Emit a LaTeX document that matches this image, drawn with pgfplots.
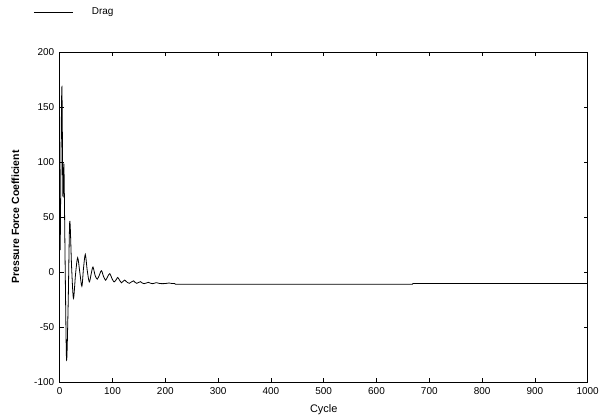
\documentclass[border=0pt]{standalone}
\usepackage{pgfplots}
\pgfplotsset{compat=1.18}
\usepackage{fontspec}
\setmainfont{Liberation Sans}
\begin{document}
\begin{tikzpicture}
\path[use as bounding box] (-59.7bp,-38bp) rectangle (543.3bp,382bp);
\begin{axis}[
  at={(0,0)}, anchor=south west,
  scale only axis,
  width=528bp, height=330bp,
  xmin=0, xmax=1000, ymin=-100, ymax=200,
  xtick={0,100,...,1000}, ytick={-100,-50,...,200},
  tick align=inside,
  major tick length=4bp,
  tick style={black, line width=0.6bp},
  axis line style={line width=0.8bp},
  /pgf/number format/assume math mode=true,
  /pgf/number format/1000 sep={},
  tick label style={font=\fontsize{10}{12}\selectfont},
  xlabel={Cycle},
  ylabel={\textbf{Pressure Force Coefficient}},
  xlabel style={font=\fontsize{11}{13}\selectfont, at={(axis description cs:0.5,0)}, anchor=north, yshift=-19bp},
  ylabel style={font=\fontsize{10.5}{13}\selectfont, at={(axis description cs:0,0.5)}, anchor=south, yshift=37bp},
  xticklabel style={yshift=-2bp},
  yticklabel style={xshift=-2bp},
  scaled ticks=false,
  clip=false,
]
\addplot[black, line width=0.8bp, smooth, tension=0.5] coordinates {
(1,20) (4,168) (6,70) (8,97) (10.5,0) (13,-80) (16,-30) (19,46) (22.5,5) (26,-24)
(30,-2) (34,13) (38,0) (42,-13) (45,3) (48.5,16) (52,2) (56,-9) (59.5,-2) (63,4.5)
(67,-3) (71,-6.5) (75,-3) (79,1.2) (83,-4) (87,-7.5) (91,-4) (95,-1.5) (99,-6) (103,-9)
(107,-7) (110,-5) (114,-8) (117,-9.8) (120,-8.5) (123,-7.3) (128,-9.5) (132,-10.3) (136,-9) (140,-8)
(143,-9.5) (146,-10.3) (149,-9.6) (153,-8.8) (157,-10.2) (160,-10.6) (164,-10) (168,-9.4) (172,-10.2) (176,-10.6)
(180,-10.1) (183,-9.7) (190,-10.5) (195,-10.6) (200,-10.5) (207,-10.0) (212,-10.4) (218,-10.5)
};
\addplot[black, line width=0.8bp] coordinates {
(218,-10.5) (219,-11.2) (668,-11.2) (669,-10.4) (1000,-10.4)
};
\end{axis}
\draw[black, line width=0.8bp] (-25.7bp,370bp) -- (13.3bp,370bp);
\node[anchor=west, font=\fontsize{10}{12}\selectfont, inner sep=0pt] at (32bp,370bp) {Drag};
\end{tikzpicture}
\end{document}
